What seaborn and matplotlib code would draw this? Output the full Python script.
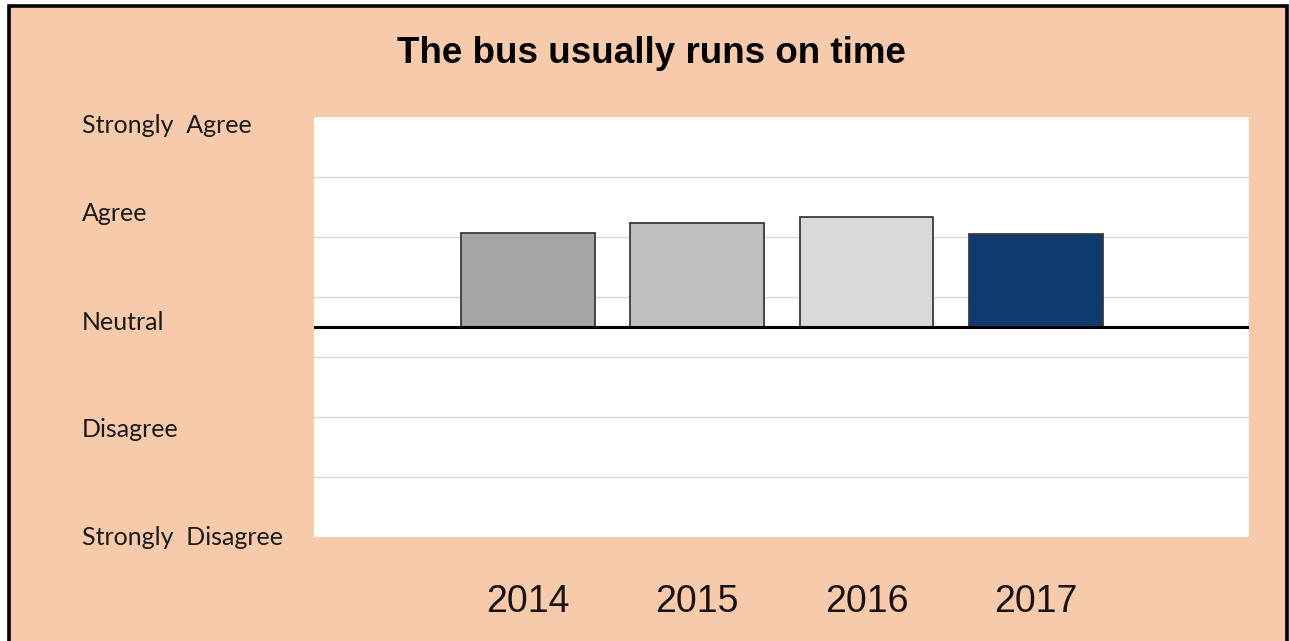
import matplotlib
matplotlib.use("Agg")
import matplotlib.pyplot as plt
from matplotlib.patches import Rectangle
import seaborn as sns
import pandas as pd
import numpy as np

# ---- data ----
years = ["2014", "2015", "2016", "2017"]
scores = [0.94, 1.04, 1.10, 0.93]          # 0 = Neutral, +2 = Strongly Agree, -2 = Strongly Disagree
bar_colors = ["#A5A5A5", "#BFBFBF", "#D9D9D9", "#0F3A6E"]
scale_labels = ["Strongly  Agree", "Agree", "Neutral", "Disagree", "Strongly  Disagree"]
title = "The bus usually runs on time"

df = pd.DataFrame({"year": years, "score": scores})

W, H = 1289, 641
fig = plt.figure(figsize=(W / 100, H / 100), dpi=100, facecolor="white")

# peach panel with black frame
panel = Rectangle((8.5 / W, -0.05), (1286.5 - 8.5) / W, (H - 6) / H + 0.05,
                  transform=fig.transFigure, facecolor="#F7CAAC",
                  edgecolor="black", linewidth=2.6, zorder=-5)
fig.patches.append(panel)

ax = fig.add_axes([314 / W, (H - 537) / H, (1249 - 314) / W, (537 - 117) / H])
ax.set_zorder(2)
ax.set_facecolor("white")

sns.barplot(data=df, x="year", y="score", hue="year", order=years,
            palette=bar_colors, legend=False, width=0.79, saturation=1,
            edgecolor="#3A3A3A", linewidth=1.3, ax=ax, zorder=3)

ax.set_ylim(-2.1, 2.1)
ax.set_xlim(-1.264, 4.26)
ax.set_yticks(np.arange(-1.5, 1.6, 0.6))
ax.yaxis.grid(True, color="#D9D9D9", linewidth=1.0, zorder=0)
ax.xaxis.grid(False)
ax.set_axisbelow(True)
ax.axhline(0, color="black", linewidth=2.2, zorder=4)

for s in ax.spines.values():
    s.set_visible(False)
ax.set_xlabel("")
ax.set_ylabel("")
ax.tick_params(axis="y", left=False, labelleft=False)
ax.tick_params(axis="x", length=0, pad=34)
for lab in ax.get_xticklabels():
    lab.set_fontfamily("Liberation Sans")
    lab.set_fontsize(27)
    lab.set_color("#1A1212")

# scale labels (text boxes at the left, like the original)
label_baselines = [133, 221, 330, 437, 545]
for txt, yb in zip(scale_labels, label_baselines):
    fig.text(82 / W, 1 - yb / H, txt, ha="left", va="baseline",
             fontsize=18, family="Lato", color="#1A1A1A")

fig.text(651 / W, 1 - 63 / H, title, ha="center", va="baseline",
         fontsize=26.5, fontweight="bold", family="Liberation Sans", color="black")

fig.savefig("out.png", dpi=100, facecolor=fig.get_facecolor())
